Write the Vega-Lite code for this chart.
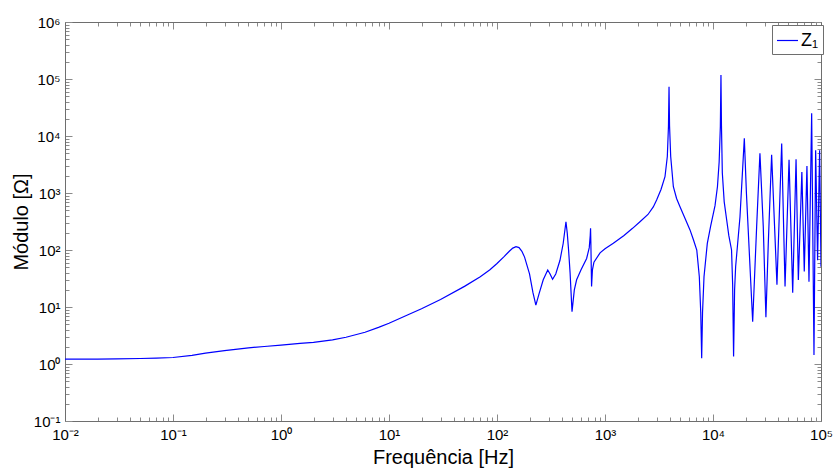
{
  "$schema": "https://vega.github.io/schema/vega-lite/v6.json",
  "autosize": "none",
  "width": 756,
  "height": 399,
  "padding": {"left": 65, "top": 22, "right": 13, "bottom": 47},
  "background": "white",
  "config": {
    "view": {"stroke": null},
    "font": "Liberation Sans",
    "axis": {
      "grid": false,
      "domainColor": "#6e6e6e",
      "tickColor": "#8a8a8a",
      "labelColor": "black",
      "labelFont": "Liberation Sans",
      "labelFontSize": 15,
      "titleFont": "Liberation Sans",
      "titleFontSize": 20,
      "titleFontWeight": "normal",
      "titleColor": "black"
    }
  },
  "data": {
    "values": [
      {"f": 0.01, "z": 1.22, "s": "Z₁"},
      {"f": 0.02, "z": 1.22, "s": "Z₁"},
      {"f": 0.03, "z": 1.23, "s": "Z₁"},
      {"f": 0.05, "z": 1.25, "s": "Z₁"},
      {"f": 0.07, "z": 1.27, "s": "Z₁"},
      {"f": 0.1, "z": 1.3, "s": "Z₁"},
      {"f": 0.15, "z": 1.42, "s": "Z₁"},
      {"f": 0.2, "z": 1.55, "s": "Z₁"},
      {"f": 0.3, "z": 1.72, "s": "Z₁"},
      {"f": 0.5, "z": 1.92, "s": "Z₁"},
      {"f": 0.7, "z": 2.03, "s": "Z₁"},
      {"f": 1.0, "z": 2.15, "s": "Z₁"},
      {"f": 1.5, "z": 2.3, "s": "Z₁"},
      {"f": 2, "z": 2.4, "s": "Z₁"},
      {"f": 3, "z": 2.65, "s": "Z₁"},
      {"f": 4, "z": 2.95, "s": "Z₁"},
      {"f": 6, "z": 3.6, "s": "Z₁"},
      {"f": 8, "z": 4.4, "s": "Z₁"},
      {"f": 10, "z": 5.2, "s": "Z₁"},
      {"f": 15, "z": 7.3, "s": "Z₁"},
      {"f": 20, "z": 9.3, "s": "Z₁"},
      {"f": 30, "z": 13.5, "s": "Z₁"},
      {"f": 50, "z": 23, "s": "Z₁"},
      {"f": 70, "z": 34, "s": "Z₁"},
      {"f": 86, "z": 45, "s": "Z₁"},
      {"f": 100, "z": 58, "s": "Z₁"},
      {"f": 115, "z": 75, "s": "Z₁"},
      {"f": 130, "z": 95, "s": "Z₁"},
      {"f": 140, "z": 108, "s": "Z₁"},
      {"f": 150, "z": 114, "s": "Z₁"},
      {"f": 160, "z": 110, "s": "Z₁"},
      {"f": 170, "z": 95, "s": "Z₁"},
      {"f": 180, "z": 75, "s": "Z₁"},
      {"f": 200, "z": 38, "s": "Z₁"},
      {"f": 215, "z": 18, "s": "Z₁"},
      {"f": 229, "z": 10.8, "s": "Z₁"},
      {"f": 245, "z": 17, "s": "Z₁"},
      {"f": 268, "z": 30, "s": "Z₁"},
      {"f": 295, "z": 44.6, "s": "Z₁"},
      {"f": 310, "z": 38, "s": "Z₁"},
      {"f": 327, "z": 30.6, "s": "Z₁"},
      {"f": 350, "z": 38, "s": "Z₁"},
      {"f": 383, "z": 66, "s": "Z₁"},
      {"f": 410, "z": 130, "s": "Z₁"},
      {"f": 435, "z": 313, "s": "Z₁"},
      {"f": 447, "z": 200, "s": "Z₁"},
      {"f": 460, "z": 100, "s": "Z₁"},
      {"f": 475, "z": 40, "s": "Z₁"},
      {"f": 495, "z": 8.3, "s": "Z₁"},
      {"f": 520, "z": 20, "s": "Z₁"},
      {"f": 546, "z": 30, "s": "Z₁"},
      {"f": 600, "z": 45, "s": "Z₁"},
      {"f": 676, "z": 71, "s": "Z₁"},
      {"f": 715, "z": 110, "s": "Z₁"},
      {"f": 730, "z": 180, "s": "Z₁"},
      {"f": 735, "z": 240, "s": "Z₁"},
      {"f": 740, "z": 130, "s": "Z₁"},
      {"f": 751, "z": 23, "s": "Z₁"},
      {"f": 765, "z": 45, "s": "Z₁"},
      {"f": 790, "z": 61, "s": "Z₁"},
      {"f": 900, "z": 89, "s": "Z₁"},
      {"f": 1000, "z": 105, "s": "Z₁"},
      {"f": 1194, "z": 131, "s": "Z₁"},
      {"f": 1500, "z": 180, "s": "Z₁"},
      {"f": 1800, "z": 240, "s": "Z₁"},
      {"f": 2108, "z": 313, "s": "Z₁"},
      {"f": 2500, "z": 420, "s": "Z₁"},
      {"f": 2800, "z": 570, "s": "Z₁"},
      {"f": 3006, "z": 754, "s": "Z₁"},
      {"f": 3300, "z": 1150, "s": "Z₁"},
      {"f": 3593, "z": 1930, "s": "Z₁"},
      {"f": 3776, "z": 4360, "s": "Z₁"},
      {"f": 3870, "z": 15000, "s": "Z₁"},
      {"f": 3916, "z": 73300, "s": "Z₁"},
      {"f": 3960, "z": 15000, "s": "Z₁"},
      {"f": 4058, "z": 4360, "s": "Z₁"},
      {"f": 4295, "z": 1290, "s": "Z₁"},
      {"f": 4600, "z": 800, "s": "Z₁"},
      {"f": 4947, "z": 574, "s": "Z₁"},
      {"f": 5500, "z": 360, "s": "Z₁"},
      {"f": 6124, "z": 225, "s": "Z₁"},
      {"f": 6600, "z": 150, "s": "Z₁"},
      {"f": 7075, "z": 100, "s": "Z₁"},
      {"f": 7470, "z": 34, "s": "Z₁"},
      {"f": 7700, "z": 8, "s": "Z₁"},
      {"f": 7856, "z": 1.26, "s": "Z₁"},
      {"f": 8000, "z": 8, "s": "Z₁"},
      {"f": 8256, "z": 34, "s": "Z₁"},
      {"f": 8858, "z": 131, "s": "Z₁"},
      {"f": 9500, "z": 260, "s": "Z₁"},
      {"f": 10440, "z": 600, "s": "Z₁"},
      {"f": 11000, "z": 1300, "s": "Z₁"},
      {"f": 11400, "z": 3500, "s": "Z₁"},
      {"f": 11700, "z": 15000, "s": "Z₁"},
      {"f": 11850, "z": 117000, "s": "Z₁"},
      {"f": 11980, "z": 15000, "s": "Z₁"},
      {"f": 12200, "z": 2240, "s": "Z₁"},
      {"f": 12700, "z": 700, "s": "Z₁"},
      {"f": 13380, "z": 339, "s": "Z₁"},
      {"f": 14000, "z": 180, "s": "Z₁"},
      {"f": 14850, "z": 100, "s": "Z₁"},
      {"f": 15200, "z": 25, "s": "Z₁"},
      {"f": 15510, "z": 1.35, "s": "Z₁"},
      {"f": 15850, "z": 20, "s": "Z₁"},
      {"f": 16200, "z": 51, "s": "Z₁"},
      {"f": 17780, "z": 382, "s": "Z₁"},
      {"f": 19500, "z": 9100, "s": "Z₁"},
      {"f": 20400, "z": 980, "s": "Z₁"},
      {"f": 23300, "z": 5.5, "s": "Z₁"},
      {"f": 25360, "z": 257, "s": "Z₁"},
      {"f": 27200, "z": 5000, "s": "Z₁"},
      {"f": 29200, "z": 257, "s": "Z₁"},
      {"f": 30900, "z": 6.6, "s": "Z₁"},
      {"f": 32500, "z": 131, "s": "Z₁"},
      {"f": 34900, "z": 4700, "s": "Z₁"},
      {"f": 39100, "z": 24.7, "s": "Z₁"},
      {"f": 43250, "z": 7400, "s": "Z₁"},
      {"f": 46450, "z": 22.8, "s": "Z₁"},
      {"f": 50600, "z": 3830, "s": "Z₁"},
      {"f": 54700, "z": 17.8, "s": "Z₁"},
      {"f": 58750, "z": 3920, "s": "Z₁"},
      {"f": 61700, "z": 29.7, "s": "Z₁"},
      {"f": 66500, "z": 2340, "s": "Z₁"},
      {"f": 70000, "z": 42, "s": "Z₁"},
      {"f": 74100, "z": 2970, "s": "Z₁"},
      {"f": 77400, "z": 27.7, "s": "Z₁"},
      {"f": 81950, "z": 25000, "s": "Z₁"},
      {"f": 86100, "z": 1.44, "s": "Z₁"},
      {"f": 89200, "z": 5600, "s": "Z₁"},
      {"f": 93000, "z": 66, "s": "Z₁"},
      {"f": 97100, "z": 5600, "s": "Z₁"},
      {"f": 100000, "z": 51, "s": "Z₁"}
    ]
  },
  "resolve": {"axis": {"x": "independent", "y": "independent"}},
  "layer": [
    {
      "mark": {"type": "line", "strokeWidth": 1.2, "clip": true},
      "encoding": {
        "x": {
          "field": "f", "type": "quantitative",
          "scale": {"type": "log", "domain": [0.01, 100000], "nice": false},
          "axis": {
            "orient": "bottom",
            "title": "Frequência [Hz]",
            "titlePadding": 2,
            "values": [0.01,0.02,0.03,0.04,0.05,0.06,0.07,0.08,0.09,0.1,0.2,0.3,0.4,0.5,0.6,0.7,0.8,0.9,1,2,3,4,5,6,7,8,9,10,20,30,40,50,60,70,80,90,100,200,300,400,500,600,700,800,900,1000,2000,3000,4000,5000,6000,7000,8000,9000,10000,20000,30000,40000,50000,60000,70000,80000,90000,100000],
            "tickSize": {"condition": {"test": "abs(log(datum.value)/LN10 - round(log(datum.value)/LN10)) < 0.001", "value": -7}, "value": -4},
            "labelPadding": 13,
            "labelFlush": false,
            "labelOverlap": false,
            "labelExpr": "abs(log(datum.value)/LN10 - round(log(datum.value)/LN10)) > 0.001 ? '' : (round(log(datum.value)/LN10) == -2 ? '10⁻²' : round(log(datum.value)/LN10) == -1 ? '10⁻¹' : round(log(datum.value)/LN10) == 0 ? '10⁰' : round(log(datum.value)/LN10) == 1 ? '10¹' : round(log(datum.value)/LN10) == 2 ? '10²' : round(log(datum.value)/LN10) == 3 ? '10³' : round(log(datum.value)/LN10) == 4 ? '10⁴' : '10⁵')"
          }
        },
        "y": {
          "field": "z", "type": "quantitative",
          "scale": {"type": "log", "domain": [0.1, 1000000], "nice": false},
          "axis": {
            "orient": "left",
            "title": "Módulo [Ω]",
            "titlePadding": 2,
            "values": [0.1,0.2,0.3,0.4,0.5,0.6,0.7,0.8,0.9,1,2,3,4,5,6,7,8,9,10,20,30,40,50,60,70,80,90,100,200,300,400,500,600,700,800,900,1000,2000,3000,4000,5000,6000,7000,8000,9000,10000,20000,30000,40000,50000,60000,70000,80000,90000,100000,200000,300000,400000,500000,600000,700000,800000,900000,1000000],
            "tickSize": {"condition": {"test": "abs(log(datum.value)/LN10 - round(log(datum.value)/LN10)) < 0.001", "value": -7}, "value": -4},
            "labelPadding": 12,
            "labelFlush": false,
            "labelOverlap": false,
            "labelExpr": "abs(log(datum.value)/LN10 - round(log(datum.value)/LN10)) > 0.001 ? '' : (round(log(datum.value)/LN10) == -1 ? '10⁻¹' : round(log(datum.value)/LN10) == 0 ? '10⁰' : round(log(datum.value)/LN10) == 1 ? '10¹' : round(log(datum.value)/LN10) == 2 ? '10²' : round(log(datum.value)/LN10) == 3 ? '10³' : round(log(datum.value)/LN10) == 4 ? '10⁴' : round(log(datum.value)/LN10) == 5 ? '10⁵' : '10⁶')"
          }
        },
        "color": {
          "field": "s", "type": "nominal",
          "scale": {"range": ["#0000ff"]},
          "legend": {
            "title": null,
            "orient": "none",
            "legendX": 707,
            "legendY": 3,
            "symbolType": "stroke",
            "symbolSize": 441,
            "symbolStrokeWidth": 1.2,
            "labelFont": "Liberation Sans",
            "labelFontSize": 18,
            "labelColor": "black",
            "strokeColor": "#6e6e6e",
            "fillColor": "white",
            "padding": 4,
            "labelOffset": 2
          }
        }
      }
    },
    {
      "mark": {"type": "point", "opacity": 0},
      "encoding": {
        "x": {
          "field": "f", "type": "quantitative",
          "axis": {
            "orient": "top", "title": null, "labels": false,
            "values": [0.01,0.02,0.03,0.04,0.05,0.06,0.07,0.08,0.09,0.1,0.2,0.3,0.4,0.5,0.6,0.7,0.8,0.9,1,2,3,4,5,6,7,8,9,10,20,30,40,50,60,70,80,90,100,200,300,400,500,600,700,800,900,1000,2000,3000,4000,5000,6000,7000,8000,9000,10000,20000,30000,40000,50000,60000,70000,80000,90000,100000],
            "tickSize": {"condition": {"test": "abs(log(datum.value)/LN10 - round(log(datum.value)/LN10)) < 0.001", "value": -7}, "value": -4}
          }
        },
        "y": {
          "field": "z", "type": "quantitative",
          "axis": {
            "orient": "right", "title": null, "labels": false,
            "values": [0.1,0.2,0.3,0.4,0.5,0.6,0.7,0.8,0.9,1,2,3,4,5,6,7,8,9,10,20,30,40,50,60,70,80,90,100,200,300,400,500,600,700,800,900,1000,2000,3000,4000,5000,6000,7000,8000,9000,10000,20000,30000,40000,50000,60000,70000,80000,90000,100000,200000,300000,400000,500000,600000,700000,800000,900000,1000000],
            "tickSize": {"condition": {"test": "abs(log(datum.value)/LN10 - round(log(datum.value)/LN10)) < 0.001", "value": -7}, "value": -4}
          }
        }
      }
    }
  ]
}
